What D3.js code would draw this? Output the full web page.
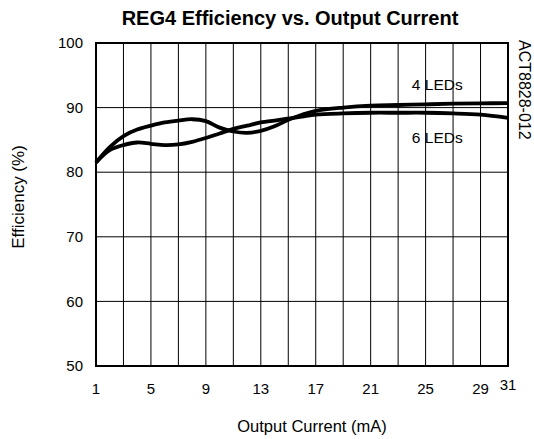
<!DOCTYPE html>
<html>
<head>
<meta charset="utf-8">
<script src="https://cdn.jsdelivr.net/npm/d3@7"></script>
<style>
  html, body { margin: 0; padding: 0; background: #fff; }
  text { font-family: "Liberation Sans", Arial, sans-serif; fill: #000; }
</style>
</head>
<body>
<div id="chart"></div>
<script>
// values
const current = [1, 2, 3, 4, 5, 6, 7, 8, 9, 10, 11, 12, 13, 14, 15, 16, 17, 19, 21, 23, 25, 27, 29, 31];
const eff4Leds = [81.5, 83.9, 85.6, 86.6, 87.2, 87.7, 88.0, 88.2, 87.9, 86.9, 86.3, 86.1, 86.4, 87.1, 88.1, 88.9, 89.5, 90.0, 90.3, 90.4, 90.5, 90.6, 90.65, 90.7];
const eff6Leds = [81.5, 83.4, 84.2, 84.6, 84.4, 84.2, 84.3, 84.7, 85.3, 86.0, 86.7, 87.2, 87.7, 88.0, 88.3, 88.6, 88.9, 89.1, 89.2, 89.2, 89.2, 89.1, 88.9, 88.4];
const xGrid = d3.range(1, 32, 2);
const xTickLabels = [1, 5, 9, 13, 17, 21, 25, 29];
const xLastLabel = 31;
const yTicks = [50, 60, 70, 80, 90, 100];
const seriesLabels = ["4 LEDs", "6 LEDs"];

const width = 534, height = 439;
const margin = { top: 43, right: 26, bottom: 73, left: 96 };
const w = width - margin.left - margin.right;
const h = height - margin.top - margin.bottom;

const svg = d3.select("#chart").append("svg")
  .attr("width", width)
  .attr("height", height);

const g = svg.append("g")
  .attr("transform", `translate(${margin.left},${margin.top})`);

const x = d3.scaleLinear().domain([1, 31]).range([0, w]);
const y = d3.scaleLinear().domain([50, 100]).range([h, 0]);

// grid
g.selectAll("line.vgrid")
  .data(xGrid)
  .enter().append("line")
  .attr("class", "vgrid")
  .attr("x1", d => x(d)).attr("x2", d => x(d))
  .attr("y1", 0).attr("y2", h)
  .attr("stroke", "#000")
  .attr("stroke-width", 1);

g.selectAll("line.hgrid")
  .data(yTicks)
  .enter().append("line")
  .attr("class", "hgrid")
  .attr("x1", 0).attr("x2", w)
  .attr("y1", d => y(d)).attr("y2", d => y(d))
  .attr("stroke", "#000")
  .attr("stroke-width", 1);

// frame
g.append("rect")
  .attr("width", w).attr("height", h)
  .attr("fill", "none")
  .attr("stroke", "#000")
  .attr("stroke-width", 2);

// y tick labels
g.selectAll("text.ytick")
  .data(yTicks)
  .enter().append("text")
  .attr("class", "ytick")
  .attr("x", -13)
  .attr("y", d => y(d))
  .attr("dy", "0.35em")
  .attr("text-anchor", "end")
  .style("font-size", "15px")
  .text(d => d);

// x tick labels
g.selectAll("text.xtick")
  .data(xTickLabels)
  .enter().append("text")
  .attr("class", "xtick")
  .attr("x", d => x(d))
  .attr("y", h + 23)
  .attr("dy", "0.35em")
  .attr("text-anchor", "middle")
  .style("font-size", "15px")
  .text(d => d);

g.append("text")
  .attr("x", x(xLastLabel))
  .attr("y", h + 19)
  .attr("dy", "0.35em")
  .attr("text-anchor", "middle")
  .style("font-size", "15px")
  .text(xLastLabel);

// curves
const line = d3.line()
  .x(d => x(d[0]))
  .y(d => y(d[1]))
  .curve(d3.curveCatmullRom.alpha(0.5));

[eff4Leds, eff6Leds].forEach(vals => {
  g.append("path")
    .datum(current.map((c, i) => [c, vals[i]]))
    .attr("d", line)
    .attr("fill", "none")
    .attr("stroke", "#000")
    .attr("stroke-width", 3.8);
});

// series labels
g.append("text")
  .attr("x", x(25.85))
  .attr("y", y(93.5))
  .attr("dy", "0.35em")
  .attr("text-anchor", "middle")
  .style("font-size", "15.5px")
  .text(seriesLabels[0]);

g.append("text")
  .attr("x", x(25.85))
  .attr("y", y(85.3))
  .attr("dy", "0.35em")
  .attr("text-anchor", "middle")
  .style("font-size", "15.5px")
  .text(seriesLabels[1]);

// part number, rotated
svg.append("text")
  .attr("transform", `translate(${margin.left + w + 11},40) rotate(90)`)
  .attr("text-anchor", "start")
  .style("font-size", "16px")
  .text("ACT8828-012");

// title
svg.append("text")
  .attr("x", 290)
  .attr("y", 25)
  .attr("text-anchor", "middle")
  .style("font-size", "20px")
  .style("font-weight", "bold")
  .text("REG4 Efficiency vs. Output Current");

// axis titles
svg.append("text")
  .attr("x", 312)
  .attr("y", 432)
  .attr("text-anchor", "middle")
  .style("font-size", "16.5px")
  .text("Output Current (mA)");

svg.append("text")
  .attr("transform", "translate(24,197) rotate(-90)")
  .attr("text-anchor", "middle")
  .style("font-size", "17px")
  .text("Efficiency (%)");
</script>
</body>
</html>
